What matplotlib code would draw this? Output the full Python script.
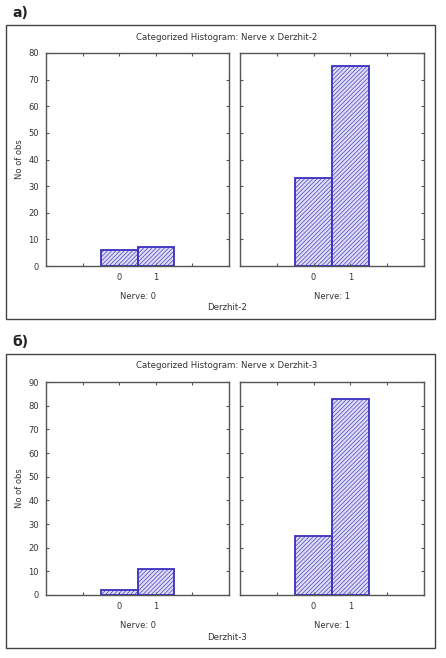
import matplotlib
matplotlib.use("Agg")
import matplotlib.pyplot as plt
from matplotlib.patches import Rectangle

# counts: [Derzhit=0, Derzhit=1] for each Nerve group
derzhit_levels = [0, 1]
a_nerve0 = [6, 7]
a_nerve1 = [33, 75]
b_nerve0 = [2, 11]
b_nerve1 = [25, 83]

a_yticks = [0, 10, 20, 30, 40, 50, 60, 70, 80]
b_yticks = [0, 10, 20, 30, 40, 50, 60, 70, 80, 90]

W, H = 446, 658
plt.rcParams['hatch.linewidth'] = 0.45

fig = plt.figure(figsize=(W / 100, H / 100), dpi=100)
fig.patch.set_facecolor('white')

edge = '#3a2fbf'
face = '#dedcf5'
spine_col = '#555555'
text_col = '#333333'


def fx(px):
    return px / W


def fy(py):
    return 1 - py / H


def draw_panel(top, label, title, xlabel, left_vals, right_vals, yticks):
    # outer frame
    fig.patches.append(Rectangle((fx(6), fy(top + 294)), fx(429), 294 / H,
                                 transform=fig.transFigure, fill=False,
                                 edgecolor='#444444', linewidth=1.0))
    fig.text(fx(12), fy(top - 12), label, fontsize=10, fontweight='bold',
             ha='left', va='center', color='#222222')
    fig.text(fx(227), fy(top + 12), title, fontsize=6.2, ha='center',
             va='center', color=text_col)

    ax_top = top + 28
    ax_h = 213
    axes = []
    for i, (x0, w, vals, nerve) in enumerate([(46, 183, left_vals, 'Nerve: 0'),
                                               (240, 184, right_vals, 'Nerve: 1')]):
        ax = fig.add_axes([fx(x0), fy(ax_top + ax_h), fx(w), ax_h / H])
        ax.bar(derzhit_levels, vals, width=1.0, color=face, edgecolor=edge,
               hatch='////////', linewidth=1.3)
        ax.set_xlim(-2, 3)
        ax.set_ylim(0, yticks[-1])
        ax.set_yticks(yticks)
        ax.set_xticks([-1, 0, 1, 2])
        ax.set_xticklabels(['', '0', '1', ''])
        ax.tick_params(direction='in', length=2.5, width=0.8, top=True,
                       right=True, labelsize=6, colors=spine_col,
                       labelcolor=text_col, pad=5)
        if i == 1:
            ax.set_yticklabels([])
        else:
            ax.set_ylabel('No of obs', fontsize=6, color=text_col, labelpad=3)
        for s in ax.spines.values():
            s.set_color(spine_col)
            s.set_linewidth(1.0)
        ax.set_xlabel(nerve, fontsize=6, color=text_col, labelpad=7)
        axes.append(ax)
    fig.text(fx(227), fy(top + 283), xlabel, fontsize=6.2, ha='center',
             va='center', color=text_col)
    return axes


draw_panel(25, 'а)', 'Categorized Histogram: Nerve x Derzhit-2', 'Derzhit-2',
           a_nerve0, a_nerve1, a_yticks)
draw_panel(354, 'б)', 'Categorized Histogram: Nerve x Derzhit-3', 'Derzhit-3',
           b_nerve0, b_nerve1, b_yticks)

fig.savefig('out.png', dpi=100)
